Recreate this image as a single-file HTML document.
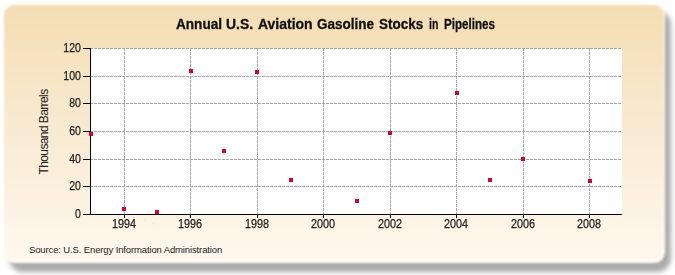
<!DOCTYPE html>
<html><head><meta charset="utf-8">
<style>
html,body{margin:0;padding:0;background:#fff;width:675px;height:275px;overflow:hidden;}
body{position:relative;font-family:"Liberation Sans",sans-serif;color:#222;}
#shadow{position:absolute;left:9px;top:11.25px;width:662px;height:260.5px;border-radius:14px;background:rgba(0,0,0,.33);filter:blur(2.8px);}
#frame{position:absolute;left:3px;top:3.5px;width:661.5px;height:259.5px;border-radius:11px;box-sizing:border-box;border:1px solid #fffefa;border-bottom-width:2px;
 background:linear-gradient(to bottom,#F4DDB2 0%,#F9EBD3 50%,#FFF8EE 100%);filter:blur(0.8px);}
svg{position:absolute;left:0;top:0;}
.t{position:absolute;white-space:nowrap;line-height:1;}
.tw{position:absolute;top:17px;font-size:14px;font-weight:bold;color:#111;-webkit-text-stroke:0.3px #111;line-height:1;white-space:nowrap;transform-origin:0 0;}
.yl{position:absolute;font-size:12px;width:40px;text-align:right;line-height:12px;transform:scaleX(0.88);transform-origin:100% 0;-webkit-text-stroke:0.25px #222;}
.xl{position:absolute;font-size:12px;width:40px;text-align:center;line-height:12px;transform:scaleX(0.9);transform-origin:50% 0;-webkit-text-stroke:0.25px #222;}
#ytitle{position:absolute;left:43.5px;top:131.75px;font-size:12px;white-space:nowrap;line-height:12px;transform:translate(-50%,-50%) rotate(-90deg);letter-spacing:-0.6px;}
#src{left:29px;top:245px;font-size:9.5px;letter-spacing:-0.13px;line-height:10px;}
</style></head><body>
<div id="shadow"></div>
<div id="frame"></div>
<svg width="675" height="275" viewBox="0 0 675 275" shape-rendering="crispEdges">
 <rect x="91" y="48" width="531" height="166" fill="#fff"/>
 <g stroke="#A6A6A6" stroke-width="1" stroke-dasharray="3,1" fill="none">
  <line x1="90" y1="48.5" x2="622" y2="48.5"/>
  <line x1="90" y1="76.5" x2="622" y2="76.5"/>
  <line x1="90" y1="103.5" x2="622" y2="103.5"/>
  <line x1="90" y1="131.5" x2="622" y2="131.5"/>
  <line x1="90" y1="159.5" x2="622" y2="159.5"/>
  <line x1="90" y1="186.5" x2="622" y2="186.5"/>
  <line x1="124.5" y1="48" x2="124.5" y2="214"/>
  <line x1="190.5" y1="48" x2="190.5" y2="214"/>
  <line x1="257.5" y1="48" x2="257.5" y2="214"/>
  <line x1="323.5" y1="48" x2="323.5" y2="214"/>
  <line x1="390.5" y1="48" x2="390.5" y2="214"/>
  <line x1="456.5" y1="48" x2="456.5" y2="214"/>
  <line x1="523.5" y1="48" x2="523.5" y2="214"/>
  <line x1="589.5" y1="48" x2="589.5" y2="214"/>
 </g>
 <g stroke="#000" stroke-width="1" fill="none">
  <line x1="90.5" y1="48" x2="90.5" y2="215"/>
  <line x1="83" y1="214.5" x2="622" y2="214.5"/>
  <line x1="83" y1="48.5" x2="90" y2="48.5"/>
  <line x1="83" y1="76.5" x2="90" y2="76.5"/>
  <line x1="83" y1="103.5" x2="90" y2="103.5"/>
  <line x1="83" y1="131.5" x2="90" y2="131.5"/>
  <line x1="83" y1="159.5" x2="90" y2="159.5"/>
  <line x1="83" y1="186.5" x2="90" y2="186.5"/>
  <line x1="124.5" y1="215" x2="124.5" y2="218"/>
  <line x1="190.5" y1="215" x2="190.5" y2="218"/>
  <line x1="257.5" y1="215" x2="257.5" y2="218"/>
  <line x1="323.5" y1="215" x2="323.5" y2="218"/>
  <line x1="390.5" y1="215" x2="390.5" y2="218"/>
  <line x1="456.5" y1="215" x2="456.5" y2="218"/>
  <line x1="523.5" y1="215" x2="523.5" y2="218"/>
  <line x1="589.5" y1="215" x2="589.5" y2="218"/>
 </g>
 <g fill="#D0062A">
  <rect x="89" y="132" width="4" height="4"/>
  <rect x="122" y="207" width="4" height="4"/>
  <rect x="155" y="210" width="4" height="4"/>
  <rect x="189" y="69" width="4" height="4"/>
  <rect x="222" y="149" width="4" height="4"/>
  <rect x="255" y="70" width="4" height="4"/>
  <rect x="289" y="178" width="4" height="4"/>
  <rect x="355" y="199" width="4" height="4"/>
  <rect x="388" y="131" width="4" height="4"/>
  <rect x="455" y="91" width="4" height="4"/>
  <rect x="488" y="178" width="4" height="4"/>
  <rect x="521" y="157" width="4" height="4"/>
  <rect x="588" y="179" width="4" height="4"/>
 </g>
</svg>
<div class="tw" style="left:176px;transform:scaleX(0.97)">Annual</div>
<div class="tw" style="left:226px;transform:scaleX(0.993)">U.S.</div>
<div class="tw" style="left:258px;transform:scaleX(0.998)">Aviation</div>
<div class="tw" style="left:317.2px;transform:scaleX(0.963)">Gasoline</div>
<div class="tw" style="left:379.2px;transform:scaleX(0.961)">Stocks</div>
<div class="tw" style="left:429.2px;transform:scaleX(0.75)">in</div>
<div class="tw" style="left:443.7px;transform:scaleX(0.829)">Pipelines</div>
<div class="yl" style="left:41px;top:42px">120</div>
<div class="yl" style="left:41px;top:70px">100</div>
<div class="yl" style="left:41px;top:97px">80</div>
<div class="yl" style="left:41px;top:125px">60</div>
<div class="yl" style="left:41px;top:153px">40</div>
<div class="yl" style="left:41px;top:180px">20</div>
<div class="yl" style="left:41px;top:208px">0</div>
<div class="xl" style="left:103.75px;top:218px">1994</div>
<div class="xl" style="left:169.75px;top:218px">1996</div>
<div class="xl" style="left:236.75px;top:218px">1998</div>
<div class="xl" style="left:302.75px;top:218px">2000</div>
<div class="xl" style="left:369.75px;top:218px">2002</div>
<div class="xl" style="left:435.75px;top:218px">2004</div>
<div class="xl" style="left:502.75px;top:218px">2006</div>
<div class="xl" style="left:568.75px;top:218px">2008</div>
<div id="ytitle">Thousand Barrels</div>
<div class="t" id="src">Source: U.S. Energy Information Administration</div>
</body></html>
